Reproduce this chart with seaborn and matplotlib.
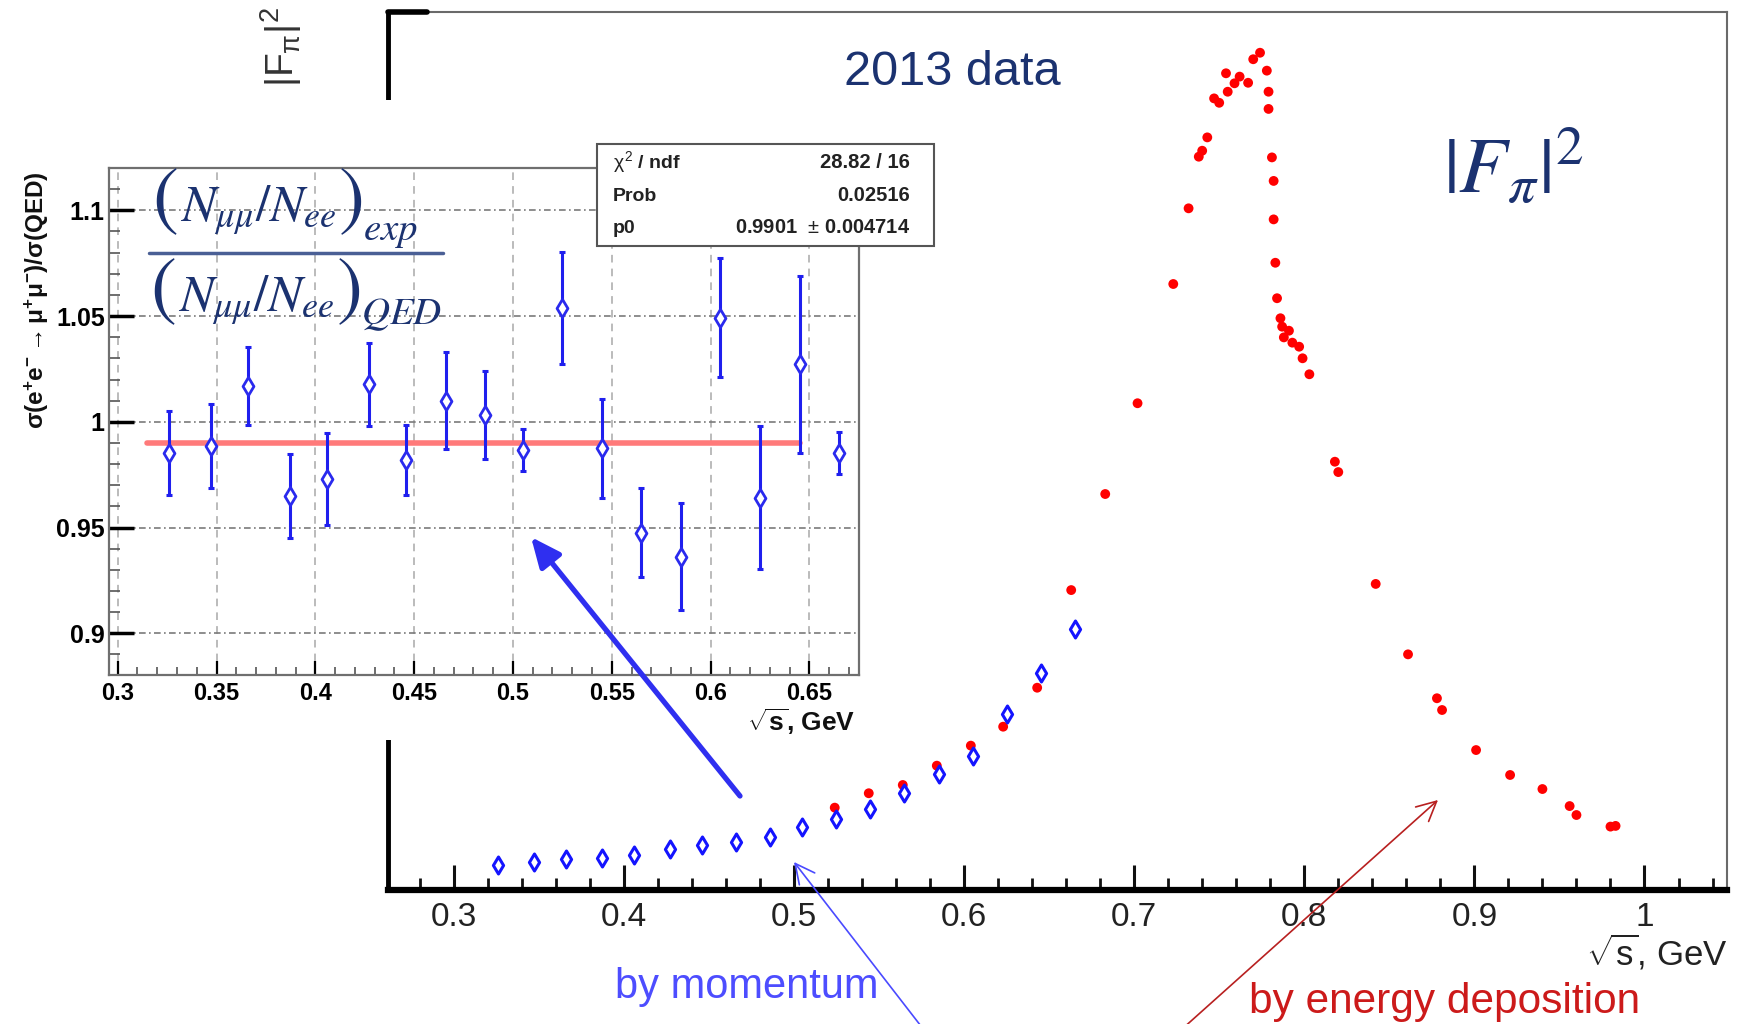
import matplotlib
matplotlib.use("Agg")
import matplotlib.pyplot as plt
import numpy as np
import pandas as pd
import seaborn as sns
from matplotlib.patches import Rectangle, FancyArrowPatch
from matplotlib.lines import Line2D
from matplotlib.ticker import MultipleLocator

# ---------------- data ----------------
# |F_pi|^2, events selected by energy deposition
sqrt_s_energy = [0.524, 0.544, 0.564, 0.584, 0.604, 0.623, 0.643, 0.663, 0.683, 0.702,
                 0.723, 0.732, 0.738, 0.740, 0.743, 0.747, 0.750, 0.754, 0.755, 0.759,
                 0.762, 0.767, 0.770, 0.774, 0.778, 0.779, 0.779, 0.781, 0.782, 0.782,
                 0.783, 0.784, 0.786, 0.787, 0.788, 0.791, 0.793, 0.797, 0.799, 0.803,
                 0.818, 0.820, 0.842, 0.861, 0.878, 0.881, 0.901, 0.921, 0.940, 0.956,
                 0.960, 0.980, 0.983]
ff_energy = [4.69, 5.51, 5.98, 7.08, 8.22, 9.30, 11.52, 17.08, 22.55, 27.72,
             34.51, 38.82, 41.76, 42.10, 42.86, 45.08, 44.83, 46.51, 45.46, 45.94,
             46.32, 45.97, 47.31, 47.68, 46.66, 45.46, 44.48, 41.72, 40.38, 38.19,
             35.72, 33.70, 32.56, 32.08, 31.47, 31.85, 31.17, 30.94, 30.28, 29.37,
             24.39, 23.80, 17.43, 13.42, 10.92, 10.25, 7.97, 6.55, 5.75, 4.78,
             4.27, 3.61, 3.65]

# |F_pi|^2, events selected by momentum
sqrt_s_mom = [0.326, 0.347, 0.366, 0.387, 0.406, 0.427, 0.446, 0.466, 0.486, 0.505,
              0.525, 0.545, 0.565, 0.585, 0.605, 0.625, 0.645, 0.665]
ff_mom = [1.44, 1.62, 1.74, 1.85, 1.99, 2.34, 2.59, 2.71, 3.02, 3.57,
          4.04, 4.64, 5.50, 6.59, 7.63, 10.02, 12.34, 14.85]

# mu+mu- / QED ratio
ratio = [0.9853, 0.9885, 1.0171, 0.9649, 0.9728, 1.0177, 0.9821, 1.0100, 1.0032, 0.9866,
         1.0536, 0.9874, 0.9476, 0.9362, 1.0493, 0.9641, 1.0271, 0.9851]
ratio_err = [0.0198, 0.0197, 0.0185, 0.0198, 0.0218, 0.0197, 0.0166, 0.0230, 0.0207, 0.0099,
             0.0265, 0.0234, 0.0211, 0.0252, 0.0280, 0.0339, 0.0420, 0.0100]
fit_p0 = 0.9901
fit_range = [0.315, 0.645]

main_ticks = [0.3, 0.4, 0.5, 0.6, 0.7, 0.8, 0.9, 1.0]
main_tick_labels = ["0.3", "0.4", "0.5", "0.6", "0.7", "0.8", "0.9", "1"]
inset_xticks = [0.3, 0.35, 0.4, 0.45, 0.5, 0.55, 0.6, 0.65]
inset_xtick_labels = ["0.3", "0.35", "0.4", "0.45", "0.5", "0.55", "0.6", "0.65"]
inset_yticks = [0.9, 0.95, 1.0, 1.05, 1.1]
inset_ytick_labels = ["0.9", "0.95", "1", "1.05", "1.1"]

stats_rows = [(r"$\chi^{2}$ / ndf", "28.82 / 16"),
              ("Prob", "0.02516"),
              ("p0", "0.9901  $\\pm$ 0.004714")]

# ---------------- style ----------------
sns.set_style("white")
plt.rcParams["font.family"] = ["Liberation Sans", "DejaVu Sans"]
plt.rcParams["mathtext.fontset"] = "custom"
plt.rcParams["mathtext.rm"] = "Liberation Sans"
plt.rcParams["mathtext.it"] = "Liberation Sans"
plt.rcParams["mathtext.sf"] = "Liberation Sans"
plt.rcParams["mathtext.bf"] = "Liberation Sans:bold"

W, H = 1738, 1024
fig = plt.figure(figsize=(W / 100, H / 100), dpi=100)
fig.patch.set_facecolor("white")
renderer = fig.canvas.get_renderer()


def box(l, t, r, b):
    return [l / W, 1 - b / H, (r - l) / W, (b - t) / H]


def fpt(x, y):
    return (x / W, 1 - y / H)


NAVY = "#1b3270"

# ---------------- main |F_pi|^2 panel ----------------
ax = fig.add_axes(box(387.5, 12, 1727, 890), zorder=0)
df_e = pd.DataFrame({"x": sqrt_s_energy, "y": ff_energy})
df_m = pd.DataFrame({"x": sqrt_s_mom, "y": ff_mom})
sns.scatterplot(data=df_e, x="x", y="y", ax=ax, color="#ff0000", s=50,
                edgecolor="none", linewidth=0, zorder=3, legend=False)
sns.scatterplot(data=df_m, x="x", y="y", ax=ax, marker="d", s=75,
                facecolor="white", edgecolor="#1414ff", linewidth=2.2,
                zorder=4, legend=False)
ax.set_xlim(0.2611, 1.0485)
ax.set_ylim(0, 50)
ax.set_xlabel("")
ax.set_ylabel("")
ax.set_yticks([])
ax.set_xticks(main_ticks)
ax.set_xticklabels(main_tick_labels)
ax.xaxis.set_minor_locator(MultipleLocator(0.02))
ax.tick_params(axis="x", which="major", direction="in", length=18, width=2.2,
               labelsize=24, pad=9, colors="#111111", labelcolor="#222222", bottom=True)
ax.tick_params(axis="x", which="minor", direction="in", length=8.5, width=2.0,
               colors="#111111", bottom=True)
for s in ("top", "right"):
    ax.spines[s].set_color("#6a6a6a")
    ax.spines[s].set_linewidth(1.5)
ax.spines["left"].set_color("black")
ax.spines["left"].set_linewidth(3.5)
ax.spines["bottom"].set_color("black")
ax.spines["bottom"].set_linewidth(4.5)
ax.add_line(Line2D([0, (427 - 387.5) / (1727 - 387.5)], [1, 1], transform=ax.transAxes,
                   color="black", linewidth=4, clip_on=False, zorder=5))

# white backing of the inset panel
fig.add_artist(Rectangle(fpt(0, 740), 875 / W, (740 - 100) / H, transform=fig.transFigure,
                         facecolor="white", edgecolor="none", zorder=1))

# ---------------- inset ratio panel ----------------
ax2 = fig.add_axes(box(109, 168, 859.4, 675), zorder=2)
ax2.set_facecolor("white")
sns.lineplot(x=fit_range, y=[fit_p0, fit_p0], ax=ax2, color="#ff7a7a",
             linewidth=4, zorder=2)
ax2.errorbar(sqrt_s_mom, ratio, yerr=ratio_err, fmt="none", ecolor="#1f1fee",
             elinewidth=2.2, capsize=2.5, capthick=2.2, zorder=3)
sns.scatterplot(x=sqrt_s_mom, y=ratio, ax=ax2, marker="d", s=85, facecolor="white",
                edgecolor="#2a2aee", linewidth=2.0, zorder=4, legend=False)
ax2.set_xlim(0.2956, 0.6753)
ax2.set_ylim(0.8803, 1.12)
ax2.set_xlabel("")
ax2.set_ylabel("")
ax2.set_xticks(inset_xticks)
ax2.set_xticklabels(inset_xtick_labels)
ax2.set_yticks(inset_yticks)
ax2.set_yticklabels(inset_ytick_labels)
ax2.xaxis.set_minor_locator(MultipleLocator(0.01))
ax2.yaxis.set_minor_locator(MultipleLocator(0.01))
ax2.set_axisbelow(True)
ax2.xaxis.grid(True, which="major", linestyle=(0, (5, 4)), color="#a8a8a8", linewidth=1.1)
ax2.yaxis.grid(True, which="major", linestyle=(0, (4, 2, 1, 2)), color="#7a7a7a", linewidth=1.2)
ax2.tick_params(axis="y", which="major", direction="in", length=18, width=2.5,
                labelsize=18, pad=3, colors="black", left=True, right=False)
ax2.tick_params(axis="y", which="minor", direction="in", length=8, width=1.2,
                colors="#555555", left=True, right=False)
ax2.tick_params(axis="x", which="major", direction="in", length=10, width=1.6,
                labelsize=17, pad=5, colors="black", bottom=True, top=False)
ax2.tick_params(axis="x", which="minor", direction="in", length=6, width=1.2,
                colors="#555555", bottom=True, top=False)
for lab in ax2.get_xticklabels() + ax2.get_yticklabels():
    lab.set_fontweight("bold")
for s in ax2.spines.values():
    s.set_color("#6f6f6f")
    s.set_linewidth(1.6)

# ---------------- fit statistics box ----------------
fig.add_artist(Rectangle(fpt(597, 246), (934 - 597) / W, (246 - 144) / H,
                         transform=fig.transFigure, facecolor="white",
                         edgecolor="#555555", linewidth=1.5, zorder=3))
for (lab, val), base in zip(stats_rows, [168, 201, 233]):
    fig.text(*fpt(613, base), lab, fontsize=14, fontweight="bold", color="#222222",
             ha="left", va="baseline", zorder=4)
    fig.text(*fpt(910, base), val, fontsize=14.5, fontweight="bold", color="#222222",
             ha="right", va="baseline", zorder=4)


# ---------------- ratio formula ----------------
def right_edge(t):
    bb = t.get_window_extent(renderer=renderer)
    return bb.x1


def formula_row(x0, paren_mid, base, sub, sub_base):
    kw = dict(color=NAVY, math_fontfamily="stix", zorder=4, ha="left")
    t = fig.text(*fpt(x0, paren_mid), r"$($", fontsize=56, va="center", **kw)
    x = right_edge(t) + 2
    t = fig.text(*fpt(x, base), r"$N_{\mu\mu}/N_{ee}$", fontsize=37, va="baseline", **kw)
    x = right_edge(t) + 2
    t = fig.text(*fpt(x, paren_mid), r"$)$", fontsize=56, va="center", **kw)
    x = right_edge(t) + 1
    fig.text(*fpt(x, sub_base), "$" + sub + "$", fontsize=28, va="baseline", **kw)


formula_row(152, 201, 221, "exp", 240)
formula_row(150, 291, 311, "QED", 324)
fig.add_artist(Line2D([149 / W, 443 / W], [1 - 253 / H, 1 - 253 / H], transform=fig.transFigure,
                      color="#4a5f95", linewidth=2.5, zorder=4))

# ---------------- labels and annotations ----------------
fig.text(*fpt(37, 300), r"$\mathbf{\sigma(e^{+}e^{-}\rightarrow\mu^{+}\mu^{-})/\sigma(QED)}$",
         fontsize=17.5, rotation=90, ha="center", va="center", color="#111111", zorder=4)
fig.text(*fpt(855, 731), r"$\sqrt{\mathbf{s}}$, GeV", fontsize=19, fontweight="bold",
         ha="right", va="baseline", color="#111111", zorder=4)

fig.text(*fpt(1727, 965), r"$\sqrt{s}$, GeV", fontsize=25, ha="right", va="baseline",
         color="#222222", zorder=4)
fig.text(*fpt(281, 47), r"$|F_{\pi}|^{2}$", fontsize=28, rotation=90, ha="center",
         va="center", color="#333333", zorder=4)
fig.text(*fpt(952, 85), "2013 data", fontsize=35, ha="center", va="baseline",
         color=NAVY, zorder=4)
fig.text(*fpt(1443, 193), r"$|F_{\pi}|^{2}$", fontsize=57, ha="left", va="baseline",
         color=NAVY, math_fontfamily="stix", zorder=4)
fig.text(*fpt(615, 998), "by momentum", fontsize=30, ha="left", va="baseline",
         color="#4d4dff", zorder=4)
fig.text(*fpt(1249, 1013), "by energy deposition", fontsize=30.5, ha="left", va="baseline",
         color="#cc1a1a", zorder=4)


def arrow(p0, p1, color, lw, style, ms):
    fig.add_artist(FancyArrowPatch(fpt(*p0), fpt(*p1), transform=fig.transFigure,
                                   arrowstyle=style, mutation_scale=ms, color=color,
                                   linewidth=lw, shrinkA=0, shrinkB=0, zorder=6))


arrow((740, 796), (531, 537), "#2f2ff0", 3.8, "-|>,head_length=0.9,head_width=0.4", 20)
arrow((924, 1030), (794, 862), "#4a4aff", 1.2, "->,head_length=0.7,head_width=0.35", 20)
arrow((1181, 1030), (1438, 800), "#b82020", 1.2, "->,head_length=0.7,head_width=0.35", 20)

fig.savefig("out.png", dpi=100)
